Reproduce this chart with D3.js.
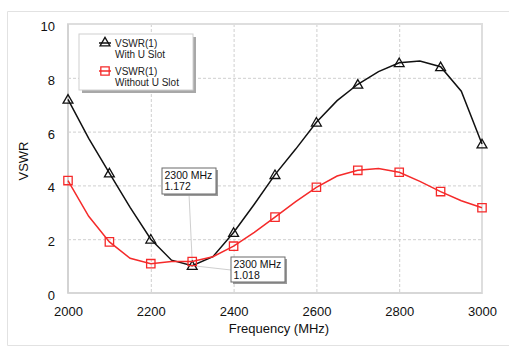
<!DOCTYPE html>
<html>
<head>
<meta charset="utf-8">
<script src="https://cdn.jsdelivr.net/npm/d3@7"></script>
<style>
  body { margin: 0; background: #fff; }
  svg { font-family: "Liberation Sans", Arial, sans-serif; display: block; }
</style>
</head>
<body>
<svg width="509" height="347"></svg>
<script>
// frequency samples (MHz)
const freqs = [2000, 2050, 2100, 2150, 2200, 2250, 2300, 2350, 2400, 2450, 2500,
               2550, 2600, 2650, 2700, 2750, 2800, 2850, 2900, 2950, 3000];
const withSlot = [7.2, 5.75, 4.46, 3.18, 2.0, 1.22, 1.018, 1.35, 2.25, 3.3, 4.4,
                  5.35, 6.35, 7.15, 7.76, 8.23, 8.56, 8.62, 8.41, 7.5, 5.54];
const withoutSlot = [4.18, 2.85, 1.9, 1.29, 1.09, 1.17, 1.172, 1.35, 1.74, 2.25, 2.82,
                     3.4, 3.93, 4.35, 4.56, 4.63, 4.49, 4.15, 3.77, 3.43, 3.17];
const xTicks = [2000, 2200, 2400, 2600, 2800, 3000];
const yTicks = [0, 2, 4, 6, 8, 10];
const seriesNames = ['VSWR(1)', 'VSWR(1)'];
const seriesSub = ['With U Slot', 'Without U Slot'];
const markers = [
  { f: 2300, v: 1.172, lines: ['2300 MHz', '1.172'] },
  { f: 2300, v: 1.018, lines: ['2300 MHz', '1.018'] }
];

const svg = d3.select('svg');
const margin = { top: 24, right: 27, bottom: 54, left: 68 };
const width = +svg.attr('width');
const height = +svg.attr('height');
const innerWidth = width - margin.left - margin.right;
const innerHeight = height - margin.top - margin.bottom;

// outer frame (top, left, bottom edges only; right runs off the page)
svg.append('path')
  .attr('d', `M${width},11.5 H7.5 V345.5 H${width}`)
  .attr('fill', 'none').attr('stroke', '#e2e2e2');

const x = d3.scaleLinear().domain([2000, 3000]).range([0, innerWidth]);
const y = d3.scaleLinear().domain([0, 10]).range([innerHeight, 0]);

const g = svg.append('g')
  .attr('transform', `translate(${margin.left}, ${margin.top})`);

// grid
g.append('g')
  .call(d3.axisBottom(x).tickValues(xTicks.slice(1, -1)).tickSize(innerHeight).tickFormat(''))
  .call(a => a.select('.domain').remove())
  .call(a => a.selectAll('text').remove())
  .selectAll('line').attr('stroke', '#cfcfcf').attr('stroke-dasharray', '3,2');
g.append('g')
  .call(d3.axisLeft(y).tickValues(yTicks.slice(1, -1)).tickSize(-innerWidth).tickFormat(''))
  .call(a => a.select('.domain').remove())
  .call(a => a.selectAll('text').remove())
  .selectAll('line').attr('stroke', '#cfcfcf').attr('stroke-dasharray', '3,2');

// plot border
g.append('rect')
  .attr('width', innerWidth).attr('height', innerHeight)
  .attr('fill', 'none').attr('stroke', '#dedede').attr('stroke-width', 2);
g.append('line').attr('x1', 0).attr('x2', 0).attr('y1', 0).attr('y2', innerHeight)
  .attr('stroke', '#c8c8c8');
g.append('line').attr('x1', 0).attr('x2', innerWidth).attr('y1', innerHeight).attr('y2', innerHeight)
  .attr('stroke', '#d0d0d0');

// tick labels
g.append('g')
  .attr('transform', `translate(0, ${innerHeight})`)
  .call(d3.axisBottom(x).tickValues(xTicks).tickSize(0).tickPadding(14).tickFormat(d3.format('d')))
  .call(a => a.select('.domain').remove())
  .call(a => a.selectAll('line').remove())
  .selectAll('text').attr('font-size', 13).attr('fill', '#111')
  .attr('font-family', '"Liberation Sans", Arial, sans-serif');
g.append('g')
  .call(d3.axisLeft(y).tickValues(yTicks).tickSize(0).tickPadding(13))
  .call(a => a.select('.domain').remove())
  .call(a => a.selectAll('line').remove())
  .selectAll('text').attr('font-size', 13).attr('fill', '#111').attr('dy', '0.5em')
  .attr('font-family', '"Liberation Sans", Arial, sans-serif');

svg.append('text')
  .attr('x', 279).attr('y', 333)
  .attr('text-anchor', 'middle').attr('font-size', 13).attr('fill', '#111')
  .text('Frequency (MHz)');
svg.append('text')
  .attr('transform', 'translate(28, 161) rotate(-90)')
  .attr('text-anchor', 'middle').attr('font-size', 13).attr('fill', '#111')
  .text('VSWR');

// series
const series = [
  { vals: withSlot, color: '#111', symbol: d3.symbolTriangle, size: 42 },
  { vals: withoutSlot, color: '#f52a2a', symbol: d3.symbolSquare, size: 70 }
];
const line = d3.line().x(d => x(d[0])).y(d => y(d[1]));

// annotation leader lines (under the curves)
const boxes = [
  { bx: 162 - margin.left, by: 168 - margin.top, w: 54, h: 26, ax: 189 - margin.left, ay: 194 - margin.top },
  { bx: 231 - margin.left, by: 257 - margin.top, w: 54, h: 25, ax: 231 - margin.left, ay: 270 - margin.top }
];
markers.forEach((m, i) => {
  const b = boxes[i];
  g.append('line')
    .attr('x1', b.ax).attr('y1', b.ay)
    .attr('x2', x(m.f)).attr('y2', y(m.v))
    .attr('stroke', '#cfcfcf');
});

series.forEach(s => {
  const pts = freqs.map((f, i) => [f, s.vals[i]]);
  g.append('path').datum(pts)
    .attr('fill', 'none').attr('stroke', s.color).attr('stroke-width', 1.5)
    .attr('d', line);
  g.selectAll(null)
    .data(pts.filter(p => p[0] % 100 === 0))
    .enter().append('path')
    .attr('transform', d => `translate(${x(d[0])}, ${y(d[1]) + (s.symbol === d3.symbolTriangle ? 1 : 0)})`)
    .attr('d', d3.symbol(s.symbol, s.size))
    .attr('fill', 'none').attr('stroke', s.color).attr('stroke-width', 1.3);
});

// annotation boxes
markers.forEach((m, i) => {
  const b = boxes[i];
  g.append('rect').attr('x', b.bx + 2).attr('y', b.by + 2)
    .attr('width', b.w).attr('height', b.h).attr('fill', '#9a9a9a');
  g.append('rect').attr('x', b.bx).attr('y', b.by)
    .attr('width', b.w).attr('height', b.h)
    .attr('fill', '#fff').attr('stroke', '#6a6a6a');
  m.lines.forEach((t, j) => {
    g.append('text')
      .attr('x', b.bx + 2.5).attr('y', b.by + 10.5 + j * 11)
      .attr('font-size', 10.5).attr('fill', '#111')
      .text(t);
  });
});

// legend
const lg = svg.append('g').attr('transform', 'translate(79, 34)');
lg.append('rect').attr('x', 3).attr('y', 3).attr('width', 114).attr('height', 56).attr('fill', '#a8a8a8');
lg.append('rect').attr('width', 114).attr('height', 56)
  .attr('fill', '#fff').attr('stroke', '#d0d0d0');
series.forEach((s, i) => {
  const yy = 9 + i * 28;
  lg.append('line').attr('x1', 20).attr('x2', 32).attr('y1', yy).attr('y2', yy)
    .attr('stroke', s.color).attr('stroke-width', 1.5);
  lg.append('path')
    .attr('transform', `translate(26, ${yy})`)
    .attr('d', d3.symbol(s.symbol, s.size))
    .attr('fill', 'none').attr('stroke', s.color).attr('stroke-width', 1.3);
  lg.append('text').attr('x', 36).attr('y', yy + 4)
    .attr('font-size', 10).attr('fill', '#222').text(seriesNames[i]);
  lg.append('text').attr('x', 36).attr('y', yy + 15)
    .attr('font-size', 10).attr('fill', '#222').text(seriesSub[i]);
});
</script>
</body>
</html>
